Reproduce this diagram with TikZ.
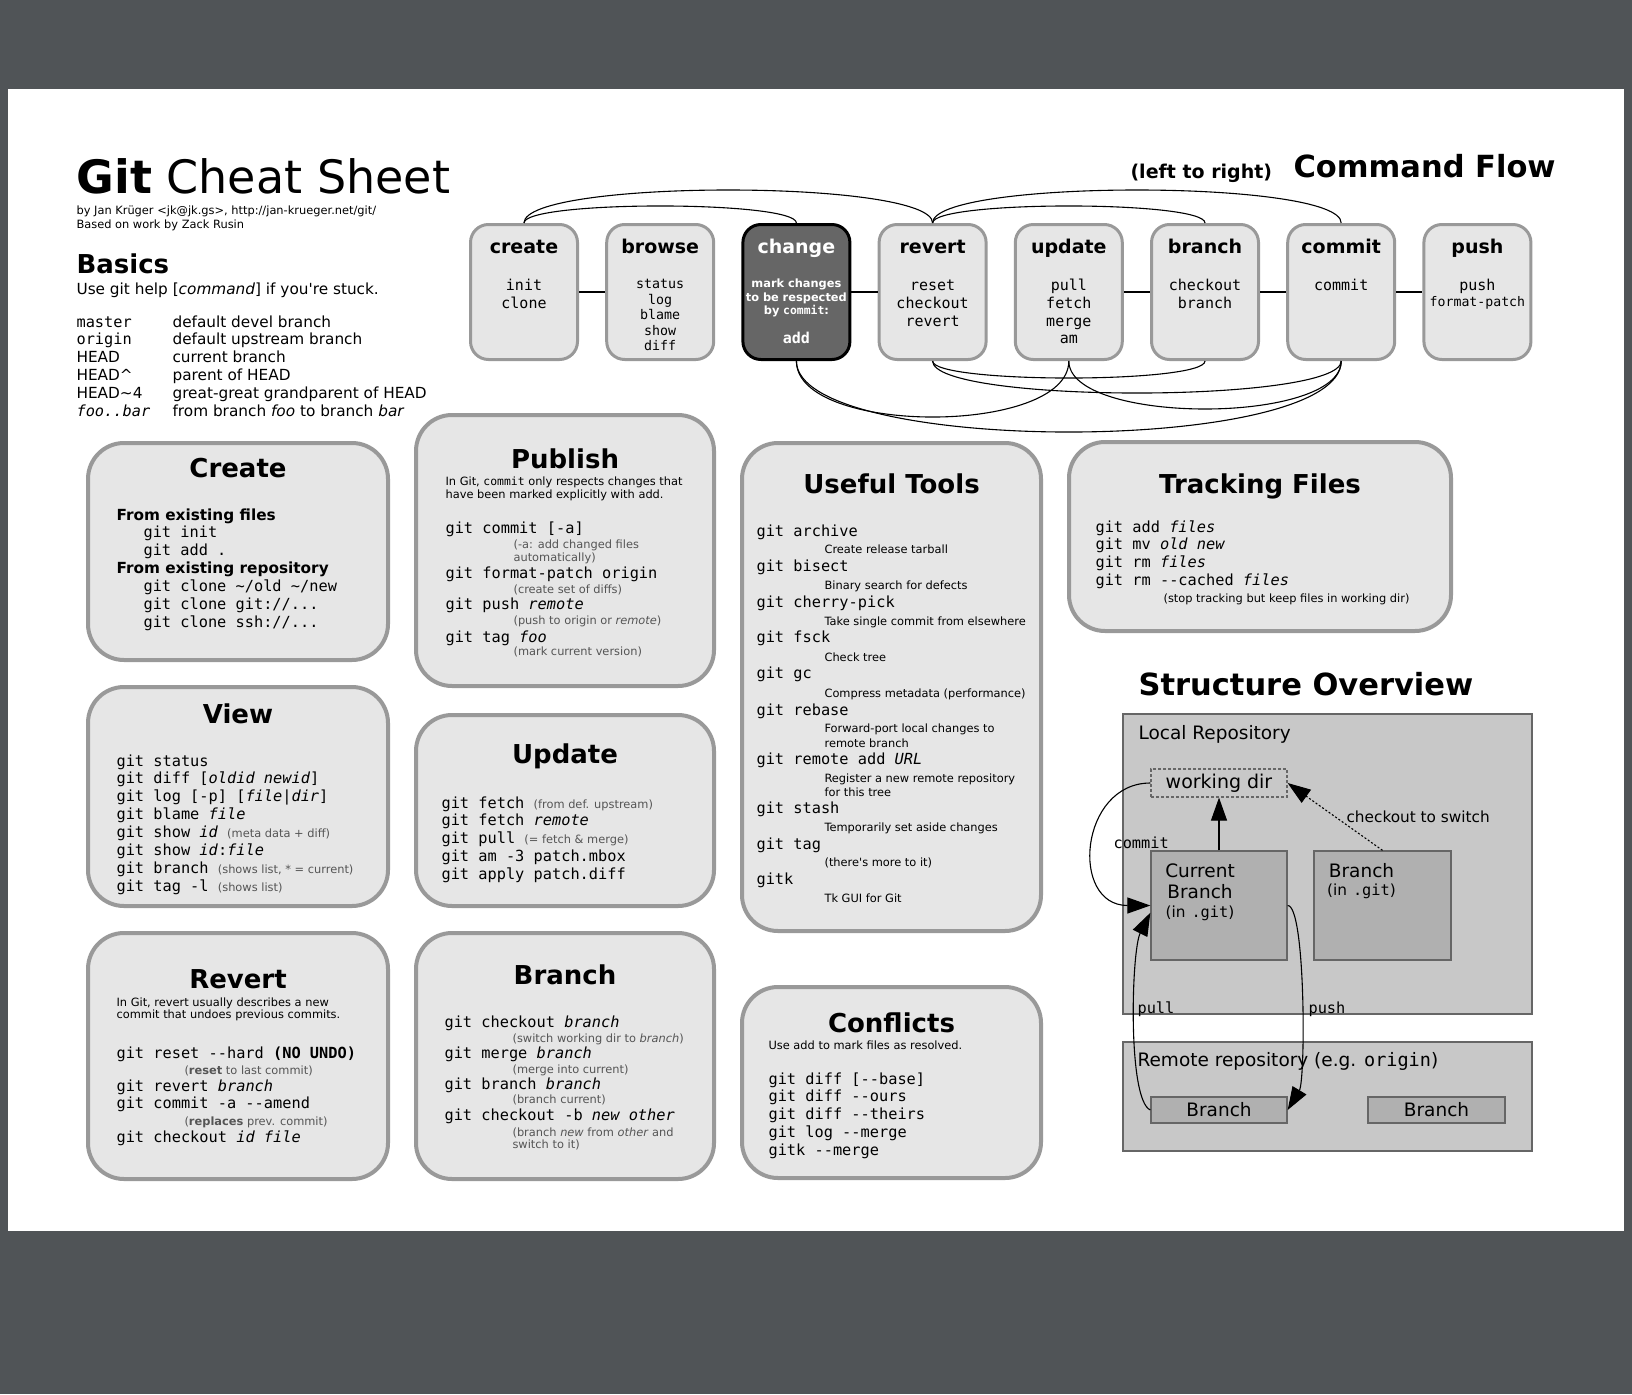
\documentclass[tikz,border=0pt]{standalone}
\usepackage{fontspec}
\setmainfont{DejaVu Sans}
\setsansfont{DejaVu Sans}
\setmonofont{DejaVu Sans Mono}
\usepackage{xcolor}
\usetikzlibrary{positioning,arrows.meta}
\definecolor{desk}{RGB}{80,84,87}
\definecolor{boxfill}{RGB}{230,230,230}
\definecolor{boxline}{RGB}{153,153,153}
\definecolor{chgfill}{RGB}{102,102,102}
\definecolor{notegray}{RGB}{85,85,85}
\definecolor{repofill}{RGB}{200,200,200}
\definecolor{brfill}{RGB}{176,176,176}
\definecolor{repoline}{RGB}{102,102,102}
\newcommand{\gnote}[1]{{\spaceskip=0pt\xspaceskip=0pt\sffamily\fontsize{11.4}{13}\selectfont\color{notegray}#1}}
\newcommand{\bnote}[1]{{\spaceskip=0pt\xspaceskip=0pt\sffamily\fontsize{11.4}{13}\selectfont #1}}
\newcommand{\gind}{\hspace*{68pt}}

\begin{document}
\begin{tikzpicture}[x=1pt, y=-1pt, node distance=136.2pt, line width=1.1pt,
    cmd/.style = {draw=boxline, fill=boxfill, line width=3pt, rounded corners=18pt, minimum width=107pt, minimum height=135pt, inner sep=0pt},
    head/.style = {anchor=base, inner sep=0pt, font=\bfseries\fontsize{19}{22}\selectfont},
    items/.style = {anchor=base, align=center, text width=107pt, inner sep=0pt, font=\ttfamily\fontsize{15}{17.8}\selectfont},
    sheet/.style = {draw=boxline, fill=boxfill, line width=4pt, rounded corners=36pt, inner sep=0pt},
    title/.style = {anchor=base, inner sep=0pt, font=\bfseries\fontsize{26}{30}\selectfont},
    body/.style = {anchor=base west, text width=330pt, inner sep=0pt, font=\ttfamily\fontsize{15.3}{17.9}\selectfont, execute at begin node={\spaceskip=0pt\xspaceskip=0pt}},
    repo/.style = {draw=repoline, fill=repofill, line width=1.3pt, inner sep=0pt},
    br/.style = {repo, fill=brfill},
    lbl/.style = {anchor=base west, inner sep=0pt, font=\ttfamily\fontsize{15.3}{18}\selectfont},
    flow/.style = {-{Triangle[length=23pt,width=16pt]}, line width=1.1pt}]
\fill[desk] (0,0) rectangle (1632,1394);
\useasboundingbox (0,0) rectangle (1632,1394);
\fill[white] (8,89) rectangle (1624,1231);

\node[anchor=base west, inner sep=0pt, font=\fontsize{46}{54}\selectfont] (title) at (76,193) {\textbf{Git} Cheat Sheet};
\node[body, font=\fontsize{11.4}{14}\selectfont] (byline) at (76,214) {by Jan Krüger <jk@jk.gs>, http://jan-krueger.net/git/\\Based on work by Zack Rusin};
\node[anchor=base west, inner sep=0pt, font=\bfseries\fontsize{26}{30}\selectfont] (basics) at (76,273) {Basics};
\node[anchor=base west, inner sep=0pt, font=\fontsize{15.3}{18}\selectfont] (help) at (76,294) {Use git help [\textit{command}] if you\textquotesingle re stuck.};
\node[body, text width=95pt] (names) at (76,327) {master\\origin\\{\sffamily HEAD}\\{\sffamily HEAD\textasciicircum}\\{\sffamily HEAD\textasciitilde 4}\\\textit{foo..bar}};
\node[body, font=\sffamily\fontsize{15.3}{17.9}\selectfont] (meaning) at (172,327) {default devel branch\\default upstream branch\\current branch\\parent of HEAD\\great-great grandparent of HEAD\\from branch \textit{foo} to branch \textit{bar}};

\node[anchor=base west, inner sep=0pt, font=\bfseries\fontsize{19}{22}\selectfont] (ltr) at (1130,178) {(left to right)};
\node[anchor=base west, inner sep=0pt, font=\bfseries\fontsize{30.5}{36}\selectfont] (flowt) at (1293,177) {Command Flow};

\node[cmd] (1) at (524,292) {};
\node[cmd] (2) [right of=1] {};
\node[cmd, draw=black, fill=chgfill] (3) [right of=2] {};
\node[cmd] (4) [right of=3] {};
\node[cmd] (5) [right of=4] {};
\node[cmd] (6) [right of=5] {};
\node[cmd] (7) [right of=6] {};
\node[cmd] (8) [right of=7] {};
\node[head] (1h) at ([yshift=-30.5pt]1.north) {create};
\node[items] (1i) at ([yshift=-67.5pt]1.north) {init\\clone};
\node[head] (2h) at ([yshift=-30.5pt]2.north) {browse};
\node[items, font=\ttfamily\fontsize{13.3}{15.5}\selectfont] (2i) at ([yshift=-65.5pt]2.north) {status\\log\\blame\\show\\diff};
\node[head, text=white] (3h) at ([yshift=-30.5pt]3.north) {change};
\node[items, text=white, font=\bfseries\fontsize{11.4}{13.5}\selectfont] (3i) at ([yshift=-64.5pt]3.north) {mark changes\\to be respected\\by \texttt{commit}:};
\node[items, text=white, font=\bfseries\ttfamily\fontsize{15}{18}\selectfont] (3a) at ([yshift=-120.5pt]3.north) {add};
\node[head] (4h) at ([yshift=-30.5pt]4.north) {revert};
\node[items] (4i) at ([yshift=-67.5pt]4.north) {reset\\checkout\\revert};
\node[head] (5h) at ([yshift=-30.5pt]5.north) {update};
\node[items] (5i) at ([yshift=-67.5pt]5.north) {pull\\fetch\\merge\\am};
\node[head] (6h) at ([yshift=-30.5pt]6.north) {branch};
\node[items] (6i) at ([yshift=-67.5pt]6.north) {checkout\\branch};
\node[head] (7h) at ([yshift=-30.5pt]7.north) {commit};
\node[items] (7i) at ([yshift=-67.5pt]7.north) {commit};
\node[head] (8h) at ([yshift=-30.5pt]8.north) {push};
\node[items] (8i) at ([yshift=-67.5pt]8.north) {push\\[-2pt]{\fontsize{13.2}{15}\selectfont format-patch}};
\draw (1) -- (2);
\draw (3) -- (4);
\draw (5) -- (6);
\draw (6) -- (7);
\draw (7) -- (8);
\draw (1.north) .. controls +(0,-22.7) and +(0,-22.7) .. (3.north);
\draw (1.north) .. controls +(0,-44) and +(0,-44) .. (4.north);
\draw (4.north) .. controls +(0,-22.7) and +(0,-22.7) .. (6.north);
\draw (4.north) .. controls +(0,-44) and +(0,-44) .. (7.north);
\draw (4.south) .. controls +(0,22.7) and +(0,22.7) .. (6.south);
\draw (4.south) .. controls +(0,42.7) and +(0,42.7) .. (7.south);
\draw (3.south) .. controls +(0,74.7) and +(0,74.7) .. (5.south);
\draw (3.south) .. controls +(0,94.7) and +(0,94.7) .. (7.south);
\draw (5.south) .. controls +(0,64) and +(0,64) .. (7.south);

\node[sheet, minimum width=300pt, minimum height=217pt] (create) at (238,551.5) {};
\node[title] (createt) at (238,477) {Create};
\node[body] (createb) at (116,520) {\textsf{\bfseries From existing files}\\
\hspace*{27pt}git init\\
\hspace*{27pt}git add .\\
\textsf{\bfseries From existing repository}\\
\hspace*{27pt}git clone \textasciitilde/old \textasciitilde/new\\
\hspace*{27pt}git clone git://...\\
\hspace*{27pt}git clone ssh://...};

\node[sheet, minimum width=300pt, minimum height=219pt] (view) at (238,796.5) {};
\node[title] (viewt) at (238,723) {View};
\node[body] (viewb) at (116,766) {git status\\
git diff [\textit{oldid newid}]\\
git log [-p] [\textit{file}|\textit{dir}]\\
git blame \textit{file}\\
git show \textit{id} \gnote{(meta data + diff)}\\
git show \textit{id}:\textit{file}\\
git branch \gnote{(shows list, * = current)}\\
git tag -l \gnote{(shows list)}};

\node[sheet, minimum width=300pt, minimum height=246pt] (revert) at (238,1056) {};
\node[title] (revertt) at (238,988) {Revert};
\node[body] (revertb) at (116,1006) {\bnote{In Git, revert usually describes a new}\\[-5.9pt]
\bnote{commit that undoes previous commits.}\\[22.1pt]
git reset --hard \textbf{(NO UNDO)}\\[-1.9pt]
\gind\gnote{(\textbf{reset} to last commit)}\\
git revert \textit{branch}\\[-0.9pt]
git commit -a --amend\\[-0.9pt]
\gind\gnote{(\textbf{replaces} prev. commit)}\\[-0.9pt]
git checkout \textit{id file}};

\node[sheet, minimum width=298pt, minimum height=271pt] (publish) at (565,550.5) {};
\node[title] (publisht) at (565,468) {Publish};
\node[body] (publishb) at (445,485) {\bnote{In Git, \texttt{commit} only respects changes that}\\[-4.9pt]
\bnote{have been marked explicitly with add.}\\[17.1pt]
git commit [-a]\\[-2.9pt]
\gind\gnote{(-a: add changed files}\\[-4.9pt]
\gind\gnote{automatically)}\\[-0.9pt]
git format-patch origin\\[-2.9pt]
\gind\gnote{(create set of diffs)}\\[-1.9pt]
git push \textit{remote}\\[-2.9pt]
\gind\gnote{(push to origin or \textit{remote})}\\[0.1pt]
git tag \textit{foo}\\[-4.9pt]
\gind\gnote{(mark current version)}};

\node[sheet, minimum width=298pt, minimum height=191pt] (update) at (565,810.5) {};
\node[title] (updatet) at (565,763) {Update};
\node[body] (updateb) at (441,808) {git fetch \gnote{(from def. upstream)}\\
git fetch \textit{remote}\\
git pull \gnote{(= fetch \& merge)}\\
git am -3 patch.mbox\\
git apply patch.diff};

\node[sheet, minimum width=298pt, minimum height=246pt] (branch) at (565,1056) {};
\node[title] (brancht) at (565,984) {Branch};
\node[body] (branchb) at (444,1027) {git checkout \textit{branch}\\[-2.9pt]
\gind\gnote{(switch working dir to \textit{branch})}\\[-1.9pt]
git merge \textit{branch}\\[-2.9pt]
\gind\gnote{(merge into current)}\\[-1.9pt]
git branch \textit{branch}\\[-3.9pt]
\gind\gnote{(branch current)}\\[-0.9pt]
git checkout -b \textit{new other}\\[-1.9pt]
\gind\gnote{(branch \textit{new} from \textit{other} and}\\[-5.9pt]
\gind\gnote{switch to it)}};

\node[sheet, minimum width=299pt, minimum height=488pt] (tools) at (891.5,687) {};
\node[title] (toolst) at (891.5,493) {Useful Tools};
\node[body] (toolsb) at (756,536) {git archive\\
\gind\bnote{Create release tarball}\\
git bisect\\
\gind\bnote{Binary search for defects}\\
git cherry-pick\\
\gind\bnote{Take single commit from elsewhere}\\[-1pt]
git fsck\\[1.1pt]
\gind\bnote{Check tree}\\[-0.9pt]
git gc\\[1.1pt]
\gind\bnote{Compress metadata (performance)}\\
git rebase\\[-0.9pt]
\gind\bnote{Forward-port local changes to}\\[-2.9pt]
\gind\bnote{remote branch}\\[-0.9pt]
git remote add \textit{URL}\\
\gind\bnote{Register a new remote repository}\\[-3.9pt]
\gind\bnote{for this tree}\\[-0.9pt]
git stash\\
\gind\bnote{Temporarily set aside changes}\\
git tag\\
\gind\bnote{(there\textquotesingle s more to it)}\\
gitk\\
\gind\bnote{Tk GUI for Git}};

\node[sheet, minimum width=299pt, minimum height=191pt] (conflicts) at (891.5,1082.5) {};
\node[title] (conflictst) at (891.5,1032) {Conflicts};
\node[body] (conflictsb) at (768,1049) {\bnote{Use add to mark files as resolved.}\\[17.1pt]
git diff [--base]\\
git diff --ours\\
git diff --theirs\\
git log --merge\\
gitk --merge};

\node[sheet, minimum width=382pt, minimum height=189pt] (tracking) at (1260,536.5) {};
\node[title] (trackingt) at (1260,493) {Tracking Files};
\node[body] (trackingb) at (1095,532) {git add \textit{files}\\
git mv \textit{old new}\\
git rm \textit{files}\\
git rm --cached \textit{files}\\[-0.9pt]
\gind\bnote{(stop tracking but keep files in working dir)}};

\node[anchor=base west, inner sep=0pt, font=\bfseries\fontsize{30.5}{36}\selectfont] (structt) at (1138,695) {Structure Overview};
\node[repo, minimum width=409pt, minimum height=300pt] (local) at (1327.5,864) {};
\node[anchor=base west, inner sep=0pt, font=\fontsize{18.5}{22}\selectfont] (localt) at (1138,739) {Local Repository};
\node[draw=repoline, dash pattern=on 3pt off 2pt, line width=1.2pt, minimum width=136pt, minimum height=28pt, inner sep=0pt, font=\fontsize{19}{22}\selectfont] (wd) at (1219,783) {working dir};
\node[br, minimum width=136pt, minimum height=109pt] (cur) at (1219,905.5) {};
\node[anchor=base, align=center, text width=100pt, inner sep=0pt, font=\fontsize{18.5}{21}\selectfont] (curt) at (1200,877) {Current\\Branch\\[-2pt]{\fontsize{15.3}{18}\selectfont\spaceskip=0pt (in \texttt{.git})}};
\node[br, minimum width=137pt, minimum height=109pt] (other) at (1382.5,905.5) {};
\node[anchor=base, align=center, text width=100pt, inner sep=0pt, font=\fontsize{18.5}{21}\selectfont] (othert) at (1361.5,877) {Branch\\[-3pt]{\fontsize{15.3}{18}\selectfont\spaceskip=0pt (in \texttt{.git})}};
\node[repo, minimum width=409pt, minimum height=109pt] (remote) at (1327.5,1096.5) {};
\node[anchor=base west, inner sep=0pt, font=\fontsize{18.5}{22}\selectfont] (remotet) at (1137,1066) {Remote repository (e.g. \texttt{origin})};
\node[br, minimum width=136pt, minimum height=26pt, font=\fontsize{18.5}{22}\selectfont] (rb1) at (1219,1110) {Branch};
\node[br, minimum width=137pt, minimum height=26pt, font=\fontsize{18.5}{22}\selectfont] (rb2) at (1436.5,1110) {Branch};
\draw[flow] (cur) -- (wd);
\draw[flow, dash pattern=on 2pt off 2pt] (other.north) -- (wd.east);
\draw[flow] (wd.west) .. controls +(-71,0) and +(-81,0) .. (cur.west);
\draw[flow] (rb1.west) .. controls +(-23,-10) and +(-19,38) .. (cur.186);
\draw[flow] (cur.east) .. controls +(18,0) and +(18,-30) .. (rb1.east);
\node[lbl] (commitl) at (1113,848) {commit};
\node[lbl] (pulll) at (1137,1013) {pull};
\node[lbl] (pushl) at (1308,1013) {push};
\node[lbl, font=\sffamily\fontsize{15.3}{18}\selectfont] (checkl) at (1346,822) {checkout to switch};
\end{tikzpicture}
\end{document}
